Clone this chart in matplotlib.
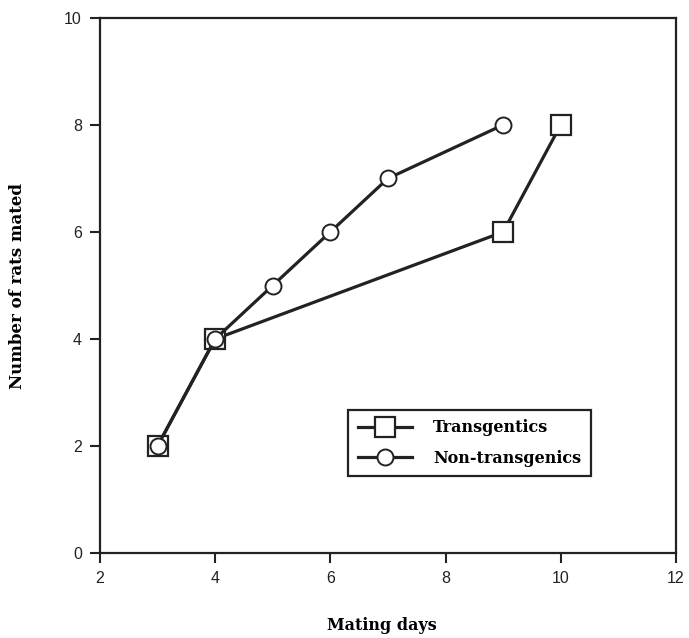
import matplotlib.pyplot as plt

# Data
trans_days = [3, 4, 9, 10]
trans_rats = [2, 4, 6, 8]
non_days = [3, 4, 5, 6, 7, 9]
non_rats = [2, 4, 5, 6, 7, 8]

fig = plt.figure(figsize=(6.89, 6.38), dpi=100)
ax = fig.add_axes([0.145, 0.133, 0.836, 0.839])

ax.plot(trans_days, trans_rats, color="#222222", lw=2.3, marker="s", ms=14,
        mfc="white", mec="#222222", mew=1.6, label="Transgentics", zorder=3)
ax.plot(non_days, non_rats, color="#222222", lw=2.3, marker="o", ms=11.5,
        mfc="white", mec="#222222", mew=1.4, label="Non-transgenics", zorder=4)

ax.set_xlim(2, 12)
ax.set_ylim(0, 10)
ax.set_xticks([2, 4, 6, 8, 10, 12])
ax.set_yticks([0, 2, 4, 6, 8, 10])
ax.tick_params(direction="out", length=7, width=1.5, labelsize=11.5,
               pad=6, colors="#222222")
for lbl in ax.get_xticklabels() + ax.get_yticklabels():
    lbl.set_family("Liberation Sans")
for s in ax.spines.values():
    s.set_linewidth(1.6)
    s.set_color("#222222")

ax.set_xlabel("Mating days", family="DejaVu Serif", weight="bold", fontsize=11.5)
ax.set_ylabel("Number of rats mated", family="DejaVu Serif", weight="bold",
              fontsize=12)
ax.xaxis.set_label_coords(0.49, -0.12)
ax.yaxis.set_label_coords(-0.128, 0.5)

leg = ax.legend(loc="upper left", bbox_to_anchor=(0.431, 0.268),
                prop={"family": "DejaVu Serif", "weight": "bold", "size": 11.5},
                frameon=True, fancybox=False, edgecolor="#222222", framealpha=1,
                handlelength=3.4, borderpad=0.6, labelspacing=0.85,
                handletextpad=1.3, borderaxespad=0)
leg.get_frame().set_linewidth(1.6)

fig.savefig("out.png", dpi=100, facecolor="white")
